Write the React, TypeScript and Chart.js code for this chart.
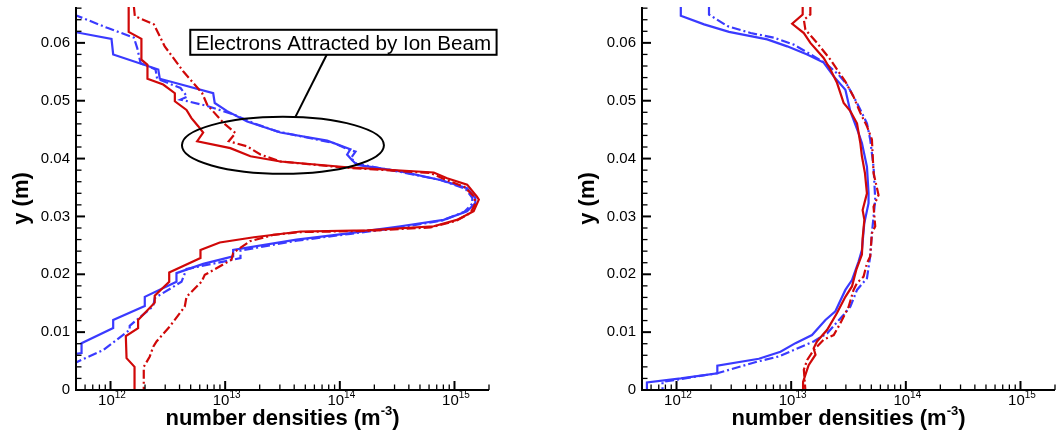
import React, { useEffect, useRef } from "react";
import { Chart, registerables } from "chart.js";

Chart.register(...registerables);

// ---- shared axis ranges and tick labels ----
const N_MIN = 5e11;
const N_MAX = 2e15;
const Y_MAX = 0.0662;
const yTickLabels = ["0", "0.01", "0.02", "0.03", "0.04", "0.05", "0.06"];
const xTickExponents = [12, 13, 14, 15];

// ---- left panel: profiles (y in m, number density in m^-3) ----
const leftRedSolidN = [1.44e12, 1.44e12, 1.86e12, 1.86e12, 2.1e12, 2.1e12, 2.88e12, 3.64e12, 3.64e12, 4.6e12, 5.08e12, 5.82e12, 6.43e12, 5.7e12, 1.11e13, 1.66e13, 3.03e13, 1.16e14, 6.59e14, 8.62e14, 1.29e15, 1.57e15, 1.63e15, 1.47e15, 1.05e15, 6.59e14, 1.73e14, 4.54e13, 1.78e13, 8.97e12, 6.09e12, 6.09e12, 3.25e12, 3.25e12, 2.43e12, 2.43e12, 1.74e12, 1.74e12, 1.36e12, 1.38e12, 1.62e12, 1.62e12];
const leftRedSolidY = [0.0662, 0.0619, 0.0607, 0.0571, 0.0562, 0.0538, 0.0528, 0.0513, 0.0499, 0.0484, 0.047, 0.0456, 0.0445, 0.043, 0.0418, 0.0404, 0.0395, 0.0385, 0.0376, 0.0366, 0.0355, 0.0334, 0.0329, 0.0309, 0.0294, 0.0283, 0.0276, 0.0274, 0.0264, 0.0255, 0.0242, 0.0228, 0.0203, 0.0187, 0.0163, 0.0151, 0.0121, 0.0107, 0.0093, 0.0055, 0.004, 0];

const leftRedDashN = [1.6e12, 1.63e12, 2.39e12, 2.97e12, 4.3e12, 5.26e12, 6.3e12, 6.97e12, 9.72e12, 1.23e13, 1.075e13, 1.555e13, 2.03e13, 3.03e13, 1.01e14, 6.17e14, 8.5e14, 1.22e15, 1.49e15, 1.52e15, 1.38e15, 1.02e15, 6.17e14, 1.71e14, 4.54e13, 2.62e13, 1.64e13, 1.174e13, 1.135e13, 6.64e12, 6.21e12, 4.6e12, 4.44e12, 3.29e12, 2.52e12, 2.36e12, 2.2e12, 1.95e12, 1.95e12];
const leftRedDashY = [0.0662, 0.0646, 0.0632, 0.0594, 0.0551, 0.0531, 0.0513, 0.0493, 0.0461, 0.0444, 0.043, 0.0421, 0.0407, 0.0395, 0.0385, 0.0375, 0.0363, 0.0351, 0.0334, 0.0322, 0.0306, 0.0292, 0.0281, 0.0275, 0.0273, 0.0268, 0.0257, 0.0237, 0.0225, 0.0199, 0.0187, 0.0161, 0.0144, 0.011, 0.0084, 0.0075, 0.0058, 0.004, 0];

const leftBlueSolidN = [4.8e11, 1.02e12, 1.055e12, 2.61e12, 2.69e12, 7.86e12, 8.11e12, 1.04e13, 1.555e13, 3.03e13, 7.75e13, 1.237e14, 1.158e14, 1.28e14, 1.415e14, 3.38e14, 7.54e14, 1.288e15, 1.52e15, 1.52e15, 1.288e15, 8.05e14, 3.38e14, 1.237e14, 4.19e13, 1.174e13, 1.174e13, 6.43e12, 3.76e12, 3.76e12, 1.99e12, 1.99e12, 1.055e12, 1.055e12, 5.59e11, 5.59e11, 4.8e11];
const leftBlueSolidY = [0.0619, 0.0607, 0.058, 0.0554, 0.0538, 0.0513, 0.0496, 0.0482, 0.0464, 0.0445, 0.0431, 0.0416, 0.0407, 0.0397, 0.0389, 0.0378, 0.0363, 0.0349, 0.0332, 0.0323, 0.0309, 0.0294, 0.0283, 0.0271, 0.026, 0.0242, 0.0231, 0.0218, 0.0202, 0.0187, 0.0161, 0.0145, 0.0121, 0.0107, 0.0081, 0.0064, 0.0062];

const leftBlueDashN = [4.8e11, 9.36e11, 1.6e12, 1.71e12, 1.83e12, 2.47e12, 2.55e12, 4.08e12, 4.66e12, 4.08e12, 6.97e12, 1.19e13, 1.776e13, 2.84e13, 8.85e13, 1.12e14, 1.37e14, 1.25e14, 1.4e14, 3.38e14, 7.54e14, 1.245e15, 1.43e15, 1.43e15, 1.22e15, 7.84e14, 3.38e14, 1.237e14, 4.19e13, 1.36e13, 1.36e13, 4.6e12, 4.16e12, 2.43e12, 2.36e12, 1.47e12, 1.47e12, 8.64e11, 4.8e11];
const leftBlueDashY = [0.0649, 0.0626, 0.0609, 0.0591, 0.0565, 0.0554, 0.0538, 0.0522, 0.0507, 0.0502, 0.0491, 0.0476, 0.0461, 0.0447, 0.0427, 0.0418, 0.0412, 0.0401, 0.0391, 0.0377, 0.0363, 0.0348, 0.0332, 0.0322, 0.0308, 0.0293, 0.0281, 0.027, 0.0258, 0.0241, 0.0228, 0.0209, 0.0187, 0.0159, 0.0145, 0.0111, 0.0104, 0.0069, 0.0046];

// ---- right panel: profiles ----
const rightRedSolidN = [1.26e13, 1.26e13, 1.02e13, 1.29e13, 1.47e13, 1.92e13, 2.2e13, 2.51e13, 2.87e13, 3.28e13, 3.75e13, 4.01e13, 4.14e13, 4.4e13, 4.58e13, 4.2e13, 4.35e13, 4.2e13, 4.14e13, 3.7e13, 3.39e13, 2.97e13, 2.51e13, 2.06e13, 1.68e13, 1.57e13, 1.63e13, 1.42e13, 1.33e13, 1.27e13, 1.27e13];
const rightRedSolidY = [0.0662, 0.0649, 0.0633, 0.0617, 0.06, 0.0574, 0.0554, 0.0531, 0.0496, 0.0482, 0.0461, 0.0427, 0.0404, 0.0375, 0.034, 0.0311, 0.0294, 0.0262, 0.0234, 0.0208, 0.0179, 0.0161, 0.0133, 0.0104, 0.0084, 0.0072, 0.0061, 0.0043, 0.0026, 0.0014, 0];

const rightRedDashN = [1.47e13, 1.47e13, 1.29e13, 1.33e13, 1.68e13, 2.2e13, 2.51e13, 2.97e13, 3.5e13, 4.01e13, 4.58e13, 5.06e13, 5.23e13, 5.78e13, 5.23e13, 5.41e13, 5.06e13, 4.89e13, 4.58e13, 4.28e13, 3.75e13, 3.5e13, 3.17e13, 2.68e13, 2.35e13, 1.92e13, 1.57e13, 1.38e13, 1.29e13, 1.33e13];
const rightRedDashY = [0.0662, 0.0649, 0.064, 0.0623, 0.06, 0.0571, 0.0554, 0.0533, 0.0507, 0.0479, 0.0456, 0.0433, 0.0375, 0.0337, 0.0317, 0.0283, 0.0271, 0.0231, 0.0219, 0.0196, 0.0185, 0.0173, 0.0144, 0.0115, 0.0095, 0.0087, 0.0069, 0.0052, 0.0035, 0];

const rightBlueSolidN = [1.09e12, 1.09e12, 1.74e12, 2.87e12, 6.18e12, 9.23e12, 1.38e13, 1.92e13, 2.35e13, 2.97e13, 3.28e13, 3.87e13, 4.14e13, 4.58e13, 4.73e13, 4.73e13, 4.34e13, 4.14e13, 3.87e13, 3.39e13, 2.97e13, 2.43e13, 1.99e13, 1.52e13, 1.09e13, 8.07e12, 5.23e12, 2.27e12, 2.27e12, 1.09e12, 5.52e11, 5.52e11];
const rightBlueSolidY = [0.0662, 0.0647, 0.0632, 0.0619, 0.0606, 0.0594, 0.058, 0.0566, 0.0542, 0.0519, 0.0482, 0.0444, 0.0427, 0.0386, 0.034, 0.0323, 0.0288, 0.0242, 0.0222, 0.019, 0.0173, 0.0136, 0.0121, 0.0095, 0.0081, 0.0066, 0.0054, 0.0042, 0.0029, 0.002, 0.0013, 0];

const rightBlueDashN = [1.92e12, 1.92e12, 2.78e12, 4.43e12, 7.06e12, 1.054e13, 1.57e13, 1.99e13, 2.59e13, 3.07e13, 3.75e13, 4.58e13, 4.89e13, 5.23e13, 5.41e13, 5.06e13, 4.89e13, 4.58e13, 3.75e13, 3.28e13, 2.87e13, 2.06e13, 1.57e13, 7.8e12, 5.06e12, 2.27e12, 1.09e12, 7.55e11, 7.55e11];
const rightBlueDashY = [0.0662, 0.0649, 0.0629, 0.0617, 0.0609, 0.0597, 0.0577, 0.0565, 0.0545, 0.0528, 0.0496, 0.0461, 0.0433, 0.0386, 0.0329, 0.0271, 0.0231, 0.0193, 0.0173, 0.0144, 0.013, 0.0098, 0.0084, 0.0058, 0.0049, 0.0029, 0.0019, 0.0014, 0];

// ---- callout on the left panel ----
const calloutText = "Electrons Attracted by Ion Beam";
const calloutLabelAt = { n: 1.075e14, y: 0.0601 };
const calloutEllipseAt = { n: 3.19e13, y: 0.0423 };
const calloutLeaderFrom = { n: 7.7e13, y: 0.058 };
const calloutLeaderTo = { n: 4.1e13, y: 0.0472 };

const RED = "rgb(208,8,8)";
const BLUE = "rgb(58,58,255)";
const DASH_DOT = [9, 3, 2, 3];
const FONT = "'Liberation Sans', Arial, Helvetica, sans-serif";

type Profile = { n: number[]; y: number[]; color: string; dashed: boolean };

const leftProfiles: Profile[] = [
  { n: leftRedSolidN, y: leftRedSolidY, color: RED, dashed: false },
  { n: leftRedDashN, y: leftRedDashY, color: RED, dashed: true },
  { n: leftBlueDashN, y: leftBlueDashY, color: BLUE, dashed: true },
  { n: leftBlueSolidN, y: leftBlueSolidY, color: BLUE, dashed: false },
];

const rightProfiles: Profile[] = [
  { n: rightRedSolidN, y: rightRedSolidY, color: RED, dashed: false },
  { n: rightRedDashN, y: rightRedDashY, color: RED, dashed: true },
  { n: rightBlueDashN, y: rightBlueDashY, color: BLUE, dashed: true },
  { n: rightBlueSolidN, y: rightBlueSolidY, color: BLUE, dashed: false },
];

// Axis lines, inward ticks, tick labels and axis titles in the Tecplot style.
const framePlugin = {
  id: "tecFrame",
  afterDatasetsDraw(chart: any) {
    const { ctx, chartArea: a } = chart;
    const xs = chart.scales.x;
    const ys = chart.scales.y;
    ctx.save();
    ctx.strokeStyle = "#000";
    ctx.lineCap = "butt";

    // y ticks: minor every 0.002, major every 0.01
    for (let i = 0; i * 0.002 <= Y_MAX + 1e-9; i++) {
      const py = ys.getPixelForValue(i * 0.002);
      const major = i % 5 === 0;
      ctx.lineWidth = major ? 2 : 1.3;
      ctx.beginPath();
      ctx.moveTo(a.left, py);
      ctx.lineTo(a.left + (major ? 9 : 5.5), py);
      ctx.stroke();
    }
    // x ticks: decades major, 2..9 minor
    for (let d = 11; d <= 15; d++) {
      for (let m = 1; m <= 9; m++) {
        const v = m * Math.pow(10, d);
        if (v < N_MIN || v > N_MAX) continue;
        const px = xs.getPixelForValue(v);
        const major = m === 1;
        ctx.lineWidth = major ? 2 : 1.3;
        ctx.beginPath();
        ctx.moveTo(px, a.bottom);
        ctx.lineTo(px, a.bottom - (major ? 9 : 5.5));
        ctx.stroke();
      }
    }
    // axis lines
    ctx.lineWidth = 2;
    ctx.beginPath();
    ctx.moveTo(a.left, a.top);
    ctx.lineTo(a.left, a.bottom);
    ctx.lineTo(a.right, a.bottom);
    ctx.stroke();

    ctx.fillStyle = "#000";
    // y tick labels
    ctx.font = `15px ${FONT}`;
    ctx.textAlign = "right";
    ctx.textBaseline = "middle";
    yTickLabels.forEach((t, i) => {
      ctx.fillText(t, a.left - 6, ys.getPixelForValue(i * 0.01));
    });
    // x tick labels: 10 with superscript exponent
    ctx.textAlign = "left";
    ctx.textBaseline = "alphabetic";
    xTickExponents.forEach((e) => {
      const px = xs.getPixelForValue(Math.pow(10, e));
      ctx.font = `15px ${FONT}`;
      const w1 = ctx.measureText("10").width;
      ctx.font = `10px ${FONT}`;
      const w2 = ctx.measureText(String(e)).width;
      const x0 = px - (w1 + w2) / 2 + 1.5;
      ctx.font = `15px ${FONT}`;
      ctx.fillText("10", x0, a.bottom + 14.5);
      ctx.font = `10px ${FONT}`;
      ctx.fillText(String(e), x0 + w1, a.bottom + 7.5);
    });

    // x title with superscript
    const main = "number densities (m";
    const sup = "-3";
    const close = ")";
    ctx.font = `bold 22px ${FONT}`;
    const wMain = ctx.measureText(main).width;
    const wClose = ctx.measureText(close).width;
    ctx.font = `bold 13px ${FONT}`;
    const wSup = ctx.measureText(sup).width;
    const cx = (a.left + a.right) / 2;
    let tx = cx - (wMain + wSup + wClose) / 2;
    const base = a.bottom + 35;
    ctx.font = `bold 22px ${FONT}`;
    ctx.fillText(main, tx, base);
    tx += wMain;
    ctx.font = `bold 13px ${FONT}`;
    ctx.fillText(sup, tx, base - 10);
    tx += wSup;
    ctx.font = `bold 22px ${FONT}`;
    ctx.fillText(close, tx, base);

    // y title, rotated
    ctx.save();
    ctx.translate(a.left - 48.5, (a.top + a.bottom) / 2);
    ctx.rotate(-Math.PI / 2);
    ctx.textAlign = "center";
    ctx.font = `bold 22px ${FONT}`;
    ctx.fillText("y (m)", 0, 0);
    ctx.restore();

    ctx.restore();
  },
};

// Ellipse, leader line and boxed label on the left panel.
const calloutPlugin = {
  id: "ionBeamCallout",
  afterDatasetsDraw(chart: any) {
    const { ctx } = chart;
    const xs = chart.scales.x;
    const ys = chart.scales.y;
    ctx.save();
    ctx.strokeStyle = "#000";
    ctx.lineWidth = 2;

    const ex = xs.getPixelForValue(calloutEllipseAt.n);
    const ey = ys.getPixelForValue(calloutEllipseAt.y);
    ctx.beginPath();
    ctx.ellipse(ex, ey, 101, 28.5, 0, 0, Math.PI * 2);
    ctx.stroke();

    ctx.beginPath();
    ctx.moveTo(xs.getPixelForValue(calloutLeaderFrom.n), ys.getPixelForValue(calloutLeaderFrom.y));
    ctx.lineTo(xs.getPixelForValue(calloutLeaderTo.n), ys.getPixelForValue(calloutLeaderTo.y));
    ctx.stroke();

    const lx = xs.getPixelForValue(calloutLabelAt.n);
    const ly = ys.getPixelForValue(calloutLabelAt.y);
    ctx.font = `20.6px ${FONT}`;
    const w = ctx.measureText(calloutText).width + 11;
    const h = 25;
    ctx.fillStyle = "#fff";
    ctx.fillRect(lx - w / 2, ly - h / 2, w, h);
    ctx.strokeRect(lx - w / 2, ly - h / 2, w, h);
    ctx.fillStyle = "#000";
    ctx.textAlign = "center";
    ctx.textBaseline = "alphabetic";
    ctx.fillText(calloutText, lx, ly + 7.5);
    ctx.restore();
  },
};

type PanelProps = {
  profiles: Profile[];
  left: number;
  width: number;
  padLeft: number;
  padRight: number;
  callout: boolean;
};

function Panel({ profiles, left, width, padLeft, padRight, callout }: PanelProps) {
  const ref = useRef<HTMLCanvasElement | null>(null);

  useEffect(() => {
    if (!ref.current) return;
    const chart = new Chart(ref.current, {
      type: "scatter",
      data: {
        datasets: profiles.map((p) => ({
          data: p.n.map((n, i) => ({ x: n, y: p.y[i] })),
          showLine: true,
          borderColor: p.color,
          backgroundColor: p.color,
          borderWidth: 2.2,
          borderDash: p.dashed ? DASH_DOT : [],
          pointRadius: 0,
          fill: false,
          tension: 0,
        })),
      },
      options: {
        responsive: false,
        animation: false,
        devicePixelRatio: 1,
        events: [],
        layout: { padding: { left: padLeft, right: padRight, top: 7, bottom: 42 } },
        plugins: { legend: { display: false }, tooltip: { enabled: false } },
        scales: {
          x: { type: "logarithmic", min: N_MIN, max: N_MAX, display: false },
          y: { type: "linear", min: 0, max: Y_MAX, display: false },
        },
      },
      plugins: callout ? [framePlugin, calloutPlugin] : [framePlugin],
    } as any);
    return () => chart.destroy();
  }, [profiles, padLeft, padRight, callout]);

  return (
    <canvas
      ref={ref}
      width={width}
      height={432}
      style={{ position: "absolute", left, top: 0, width, height: 432 }}
    />
  );
}

export default function App() {
  return (
    <div
      style={{
        position: "fixed",
        left: 0,
        top: 0,
        width: 1059,
        height: 432,
        background: "#fff",
        overflow: "hidden",
      }}
    >
      <Panel profiles={leftProfiles} left={0} width={530} padLeft={76} padRight={41} callout={true} />
      <Panel profiles={rightProfiles} left={530} width={529} padLeft={112} padRight={4} callout={false} />
    </div>
  );
}
